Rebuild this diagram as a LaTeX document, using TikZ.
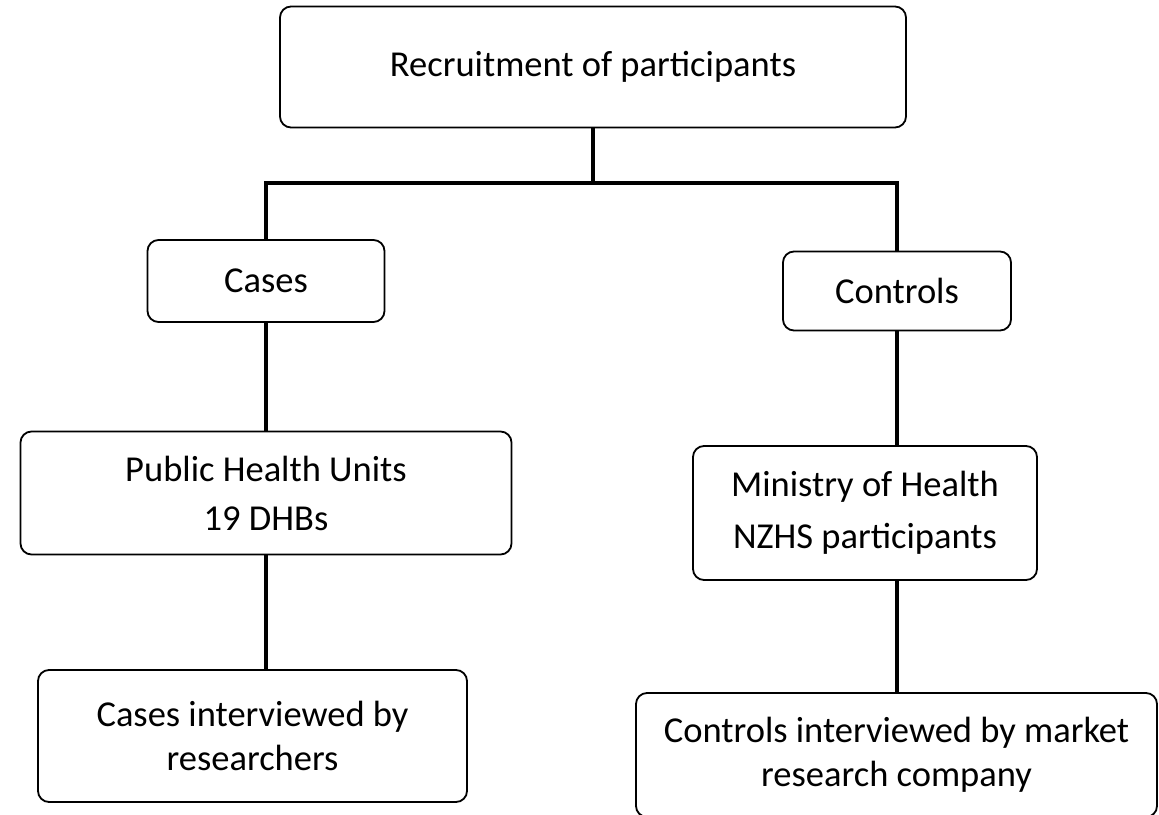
\documentclass[tikz,border=0pt]{standalone}
\usepackage{fontspec}
\setmainfont{Carlito}
\begin{document}
\begin{tikzpicture}[x=1pt, y=-1pt,
  box/.style={draw, line width=1.8pt, rounded corners=11pt, align=center,
    inner sep=0pt, font=\fontsize{36.5}{44}\selectfont},
  link/.style={line width=3.4pt}]

  \useasboundingbox (0,0) rectangle (1159,814);

  % ───────── Top level ─────────
  \node[box, minimum width=626pt, minimum height=121pt] (recruit) at (593,67)
    {Recruitment of participants};
  \coordinate (split) at (593,183);

  % ───────── Second level ─────────
  \node[box, minimum width=228pt, minimum height=79pt] (controls) at (897,291) {Controls};
  \node[box, minimum width=237pt, minimum height=82pt] (cases) at (266,281) {Cases};

  % ───────── Sources ─────────
  \node[box, minimum width=491pt, minimum height=123pt] (phu) at (266,493)
    {Public Health Units\\[5pt] 19 DHBs};
  \node[box, minimum width=344pt, minimum height=134pt] (moh) at (865,513)
    {Ministry of Health\\[8pt] NZHS participants};

  % ───────── Interviews ─────────
  \node[box, minimum width=429pt, minimum height=132pt] (casesint) at (252.5,736)
    {Cases interviewed by\\ researchers};
  \node[box, minimum width=521pt, minimum height=124pt] (ctrlint) at (896.5,755)
    {Controls interviewed by market\\ research company};

  % ───────── Connectors ─────────
  \draw[link] (recruit.south) -- (split);
  \draw[link] (cases.north) |- (split) -| (controls.north);
  \draw[link] (cases.south) -- (phu.north);
  \draw[link] (phu.south) -- (phu.south |- casesint.north);
  \draw[link] (controls.south) -- (controls.south |- moh.north);
  \draw[link] (controls.south |- moh.south) -- (controls.south |- ctrlint.north);

\end{tikzpicture}
\end{document}
